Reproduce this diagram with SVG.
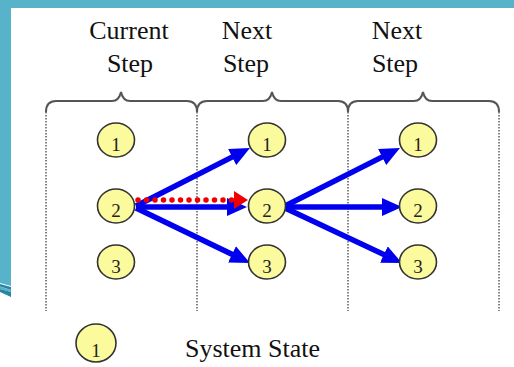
<svg xmlns="http://www.w3.org/2000/svg" width="514" height="367" viewBox="0 0 514 367">
<defs>
<style>
.hdr{font-family:"Liberation Serif","Times New Roman",serif;font-size:26px;fill:#111}
.num{font-family:"Liberation Serif","Times New Roman",serif;font-size:19px;fill:#222;text-anchor:middle}
.st{fill:#fbfa9c;stroke:#333;stroke-width:1.6}
.brace{fill:none;stroke:#555;stroke-width:2}
.sep{fill:none;stroke:#666;stroke-width:1.6;stroke-dasharray:1.5 1.5}
.arr{stroke:#0000ee;stroke-width:5.5;fill:none;marker-end:url(#ah)}
</style>
<marker id="ah" markerUnits="userSpaceOnUse" markerWidth="20" markerHeight="18" refX="8" refY="9" orient="auto">
<path d="M0,0 L20,9 L0,18 z" fill="#0000ee"/>
</marker>
</defs>
<rect width="514" height="367" fill="#fff"/>
<g id="frame">
<rect x="0" y="0" width="514" height="8" fill="#56b3c9"/>
<polygon points="0,0 11,0 11,286 0,283" fill="#56b3c9"/>
<polygon points="0,284 11,287 11,290 0,286.5" fill="#2a86a0"/>
<polygon points="0,286.5 11,290 11,292 0,289" fill="#56b3c9"/>
<polygon points="0,289 11,292 11,297 0,292" fill="#2a86a0"/>
</g>
<g id="headers">
<text class="hdr" x="129" y="39" text-anchor="middle">Current</text>
<text class="hdr" x="130" y="72" text-anchor="middle">Step</text>
<text class="hdr" x="247" y="39" text-anchor="middle">Next</text>
<text class="hdr" x="246" y="72" text-anchor="middle">Step</text>
<text class="hdr" x="397" y="39" text-anchor="middle">Next</text>
<text class="hdr" x="395" y="72" text-anchor="middle">Step</text>
</g>
<g id="braces">
<path class="brace" d="M46,112 Q46,101 56,101 L112,101 Q119,101 121,92 Q123,101 130,101 L187,101 Q197,101 197,112"/>
<path class="brace" d="M197,112 Q197,101 207,101 L263,101 Q270,101 272,92 Q274,101 281,101 L338,101 Q348,101 348,112"/>
<path class="brace" d="M348,112 Q348,101 358,101 L414,101 Q421,101 423,92 Q425,101 432,101 L489,101 Q499,101 499,112"/>
<path class="sep" d="M46,112 V311 M197,112 V311 M348,112 V311 M499,112 V311"/>
</g>
<g id="connectors">
<line class="arr" x1="136" y1="206" x2="239.3" y2="153.4"/>
<line class="arr" x1="136" y1="207" x2="235" y2="207"/>
<line class="arr" x1="136" y1="208" x2="239.2" y2="257.8"/>
<line class="arr" x1="285" y1="206" x2="389.3" y2="153.4"/>
<line class="arr" x1="285" y1="207" x2="390" y2="207"/>
<line class="arr" x1="285" y1="208" x2="391.1" y2="257.9"/>
<line x1="138" y1="200" x2="232" y2="200" stroke="#ee0000" stroke-width="5.5" stroke-linecap="round" stroke-dasharray="0 8.5"/>
<polygon points="234,191 248,200 234,209" fill="#ee0000"/>
</g>
<g id="c1s1"><ellipse class="st" cx="116" cy="140" rx="18.5" ry="17"/><text class="num" x="116" y="151">1</text></g>
<g id="c1s2"><ellipse class="st" cx="116" cy="206" rx="18.5" ry="17"/><text class="num" x="116" y="217">2</text></g>
<g id="c1s3"><ellipse class="st" cx="116" cy="262" rx="18.5" ry="17"/><text class="num" x="116" y="273">3</text></g>
<g id="c2s1"><ellipse class="st" cx="267" cy="140" rx="18.5" ry="17"/><text class="num" x="267" y="151">1</text></g>
<g id="c2s2"><ellipse class="st" cx="267" cy="206" rx="18.5" ry="17"/><text class="num" x="267" y="217">2</text></g>
<g id="c2s3"><ellipse class="st" cx="267" cy="262" rx="18.5" ry="17"/><text class="num" x="267" y="273">3</text></g>
<g id="c3s1"><ellipse class="st" cx="418" cy="140" rx="18.5" ry="17"/><text class="num" x="418" y="151">1</text></g>
<g id="c3s2"><ellipse class="st" cx="418" cy="206" rx="18.5" ry="17"/><text class="num" x="418" y="217">2</text></g>
<g id="c3s3"><ellipse class="st" cx="418" cy="262" rx="18.5" ry="17"/><text class="num" x="418" y="273">3</text></g>
<g id="legend">
<ellipse class="st" cx="96" cy="343" rx="20" ry="19"/><text class="num" x="96" y="357">1</text>
<text class="hdr" x="185" y="357">System State</text>
</g>
</svg>
